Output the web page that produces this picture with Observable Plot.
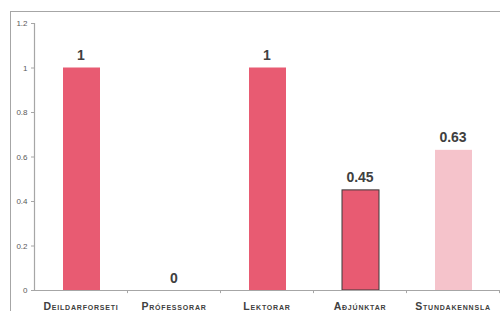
<!DOCTYPE html>
<html>
<head>
<meta charset="utf-8">
<script src="https://cdn.jsdelivr.net/npm/d3@7"></script>
<script src="https://cdn.jsdelivr.net/npm/@observablehq/plot@0.6"></script>
<style>
  html, body { margin: 0; padding: 0; background: #fff; overflow: hidden; }
  #wrap { position: relative; width: 500px; height: 311px; overflow: hidden; }
  #frame { position: absolute; left: 10px; top: 11px; width: 600px; height: 400px; border: 1px solid #a6a6a6; }
  #chart { position: absolute; left: 0; top: 0; }
  .xlab { font-variant: small-caps; letter-spacing: 0.8px; }
</style>
</head>
<body>
<div id="wrap"><div id="frame"></div><div id="chart"></div></div>
<script>
const categories = ["Deildarforseti", "Prófessorar", "Lektorar", "Aðjúnktar", "Stundakennsla"];
const values = [1, 0, 1, 0.45, 0.63];
const valueLabels = ["1", "0", "1", "0.45", "0.63"];
const barColors = ["#e85b72", "#e85b72", "#e85b72", "#e85b72", "#f5c3cb"];
const outlined = [false, false, false, true, false];
const yTicks = [0, 0.2, 0.4, 0.6, 0.8, 1, 1.2];

const data = categories.map((c, i) => ({cat: c, v: values[i], label: valueLabels[i], color: barColors[i], outlined: outlined[i]}));

const chart = Plot.plot({
  width: 500,
  height: 311,
  marginLeft: 34,
  marginRight: 1,
  marginTop: 23,
  marginBottom: 21,
  style: {fontFamily: "'Liberation Sans', Arial, sans-serif", background: "transparent", overflow: "visible"},
  x: {domain: categories, padding: 0, axis: null},
  y: {domain: [0, 1.2], axis: null},
  marks: [
    Plot.barY(data, {x: "cat", y: "v", fill: "color", insetLeft: 29, insetRight: 27,
      stroke: d => d.outlined ? "#3a3a3a" : "none", strokeWidth: 1}),
    Plot.ruleX([categories[0]], {x: d => d, dx: -46.5, y1: 0, y2: 1.2, stroke: "#a6a6a6", strokeWidth: 1.2}),
    Plot.ruleY([0], {stroke: "#a6a6a6", strokeWidth: 1.2}),
    Plot.ruleX(categories, {x: d => d, dx: 46.5, y1: 0, y2: -0.014, stroke: "#a6a6a6"}),
    Plot.axisY({ticks: yTicks, tickSize: 3, tickPadding: 4, fontSize: 8, color: "#595959", stroke: "#a6a6a6", label: null, tickFormat: d => String(d)}),
    Plot.text(data, {x: "cat", y: "v", text: "label", dy: -8, lineAnchor: "bottom", fontSize: 14, fontWeight: "bold", fill: "#404040"}),
    Plot.text(categories, {x: d => d, y: 0, text: d => d, dy: 19.5, lineAnchor: "bottom", fontSize: 10.5, fontWeight: "bold", fill: "#404040", className: "xlab"})
  ]
});
document.getElementById("chart").appendChild(chart);
</script>
</body>
</html>
